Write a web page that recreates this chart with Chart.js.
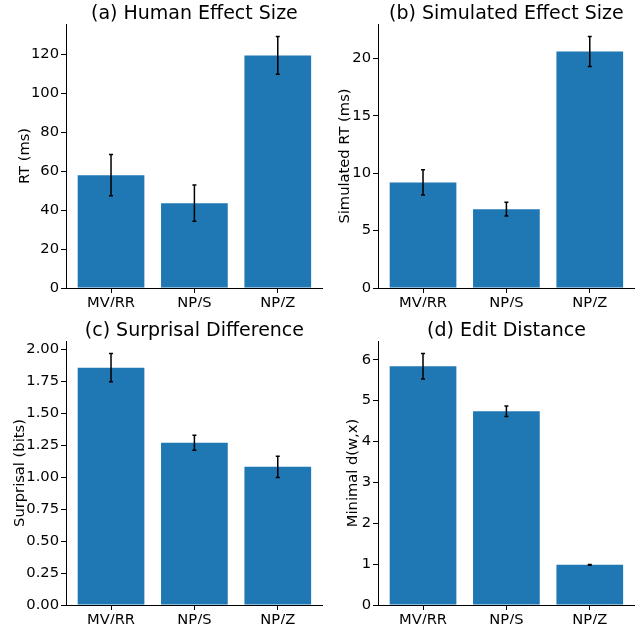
<!DOCTYPE html>
<html>
<head>
<meta charset="utf-8">
<script src="https://cdn.jsdelivr.net/npm/chart.js@4"></script>
<style>
  html, body { margin: 0; padding: 0; background: #fff; }
  #wrap { position: relative; width: 641px; height: 624px; overflow: hidden; }
  canvas { position: absolute; }
</style>
</head>
<body>
<div id="wrap">
  <canvas id="chartA" width="325" height="307" style="left:0;top:0"></canvas>
  <canvas id="chartB" width="316" height="307" style="left:325px;top:0"></canvas>
  <canvas id="chartC" width="325" height="307" style="left:0;top:317px"></canvas>
  <canvas id="chartD" width="316" height="307" style="left:325px;top:317px"></canvas>
</div>
<script>
// Data
const categories = ["MV/RR", "NP/S", "NP/Z"];

const humanRT = [58.0, 43.6, 119.5];
const humanErr = [10.6, 9.3, 9.7];

const simulatedRT = [9.2, 6.87, 20.6];
const simulatedErr = [1.1, 0.6, 1.3];

const surprisal = [1.855, 1.268, 1.08];
const surprisalErr = [0.11, 0.058, 0.083];

const editDistance = [5.84, 4.74, 0.983];
const editErr = [0.31, 0.13, 0.01];

const BAR_COLOR = "#1f77b4";
const TICK_SIZE = 14.7;
Chart.defaults.font.family = "'DejaVu Sans', sans-serif";
Chart.defaults.color = "#000";

// Draw error bars with caps on top of the bars
function makeErrorBars(values, errors) {
  return {
    id: "errorBars",
    afterDatasetsDraw(chart) {
      const ctx = chart.ctx;
      const xs = chart.scales.x;
      const ys = chart.scales.y;
      ctx.save();
      ctx.strokeStyle = "#000";
      ctx.lineWidth = 1.5;
      values.forEach(function (v, i) {
        const x = xs.getPixelForValue(i);
        const top = ys.getPixelForValue(v + errors[i]);
        const bot = ys.getPixelForValue(v - errors[i]);
        ctx.beginPath();
        ctx.moveTo(x, top);
        ctx.lineTo(x, bot);
        ctx.moveTo(x - 2, top);
        ctx.lineTo(x + 2, top);
        ctx.moveTo(x - 2, bot);
        ctx.lineTo(x + 2, bot);
        ctx.stroke();
      });
      ctx.restore();
    },
  };
}

function makePanel(p) {
  // matplotlib-like upper limit: 5% margin above the highest error bar
  let top = 0;
  p.values.forEach(function (v, i) {
    top = Math.max(top, v + p.errors[i]);
  });
  const yMax = top * 1.05;

  new Chart(document.getElementById(p.id), {
    type: "bar",
    data: {
      datasets: [
        {
          data: p.values.map(function (v, i) { return { x: i, y: v }; }),
          backgroundColor: BAR_COLOR,
          borderWidth: 0,
          categoryPercentage: 1,
          barPercentage: 0.8,
        },
      ],
    },
    plugins: [makeErrorBars(p.values, p.errors)],
    options: {
      responsive: false,
      animation: false,
      devicePixelRatio: 1,
      layout: { padding: { left: 0, right: p.padRight, top: 0, bottom: 0 } },
      plugins: {
        legend: { display: false },
        tooltip: { enabled: false },
        title: {
          display: true,
          text: p.title,
          fullSize: false,
          font: { size: 19, weight: "normal", lineHeight: 1.0 },
          color: "#000",
          padding: { top: 4.4, bottom: 0.6 },
        },
      },
      scales: {
        x: {
          type: "linear",
          min: -0.54,
          max: 2.54,
          offset: false,
          afterBuildTicks: function (scale) {
            scale.ticks = categories.map(function (c, i) { return { value: i }; });
          },
          afterFit: function (scale) { scale.height = 19; },
          grid: {
            display: true,
            offset: false,
            drawOnChartArea: false,
            drawTicks: true,
            tickLength: 5,
            tickColor: "#000",
          },
          border: { display: true, color: "#000", width: 1 },
          ticks: {
            padding: 1,
            font: { size: TICK_SIZE },
            color: "#000",
            autoSkip: false,
            maxRotation: 0,
            callback: function (v) { return categories[v]; },
          },
        },
        y: {
          type: "linear",
          min: 0,
          max: yMax,
          afterFit: function (scale) { scale.width = p.yWidth; },
          grid: {
            display: true,
            drawOnChartArea: false,
            drawTicks: true,
            tickLength: 5,
            tickColor: "#000",
          },
          border: { display: true, color: "#000", width: 1 },
          title: {
            display: true,
            text: p.yLabel,
            font: { size: TICK_SIZE },
            color: "#000",
            padding: { top: p.labelPad, bottom: 0 },
          },
          ticks: {
            stepSize: p.step,
            includeBounds: false,
            padding: 2,
            font: { size: TICK_SIZE },
            color: "#000",
            callback: function (v) { return Number(v).toFixed(p.decimals); },
          },
        },
      },
    },
  });
}

makePanel({
  id: "chartA", title: "(a) Human Effect Size", yLabel: "RT (ms)",
  values: humanRT, errors: humanErr, step: 20, decimals: 0,
  yWidth: 66, padRight: 2.2, labelPad: 16.2,
});
makePanel({
  id: "chartB", title: "(b) Simulated Effect Size", yLabel: "Simulated RT (ms)",
  values: simulatedRT, errors: simulatedErr, step: 5, decimals: 0,
  yWidth: 53, padRight: 6.2, labelPad: 11.2,
});
makePanel({
  id: "chartC", title: "(c) Surprisal Difference", yLabel: "Surprisal (bits)",
  values: surprisal, errors: surprisalErr, step: 0.25, decimals: 2,
  yWidth: 66, padRight: 2.2, labelPad: 11.2,
});
makePanel({
  id: "chartD", title: "(d) Edit Distance", yLabel: "Minimal d(w,x)",
  values: editDistance, errors: editErr, step: 1, decimals: 0,
  yWidth: 53, padRight: 6.2, labelPad: 19.2,
});
</script>
</body>
</html>
